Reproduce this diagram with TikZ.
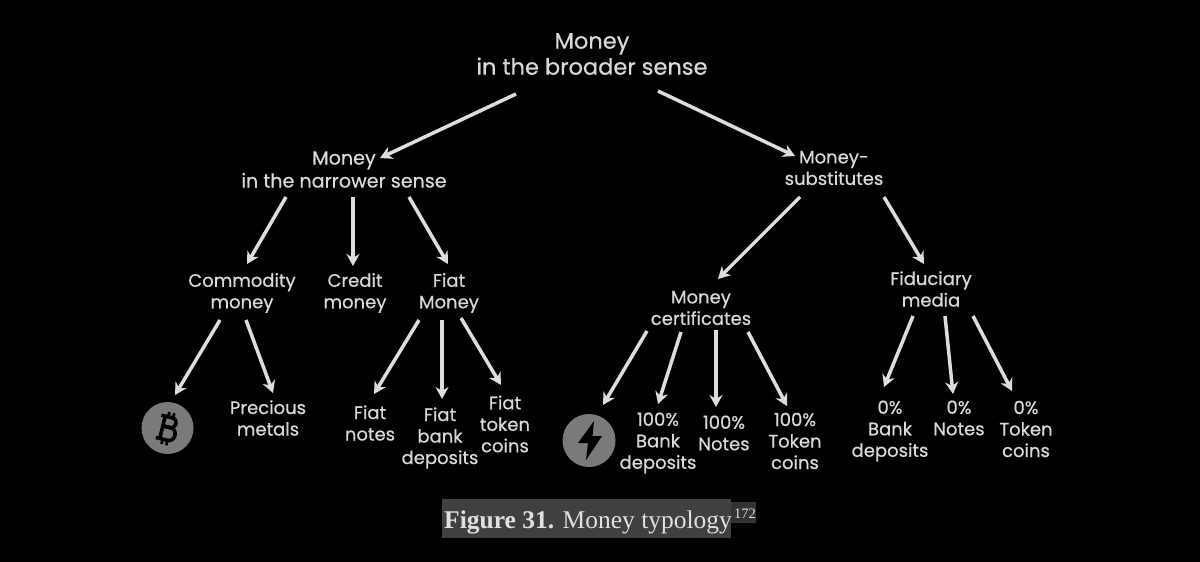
\documentclass[tikz,border=0pt]{standalone}
\usepackage{fontspec}
\setmainfont{Poppins}[FakeBold=0.5]
\newfontfamily\capfont{Liberation Serif}
\definecolor{txt}{HTML}{D9D9D9}
\definecolor{arrowc}{HTML}{DDDDDD}
\definecolor{disc}{HTML}{7A7A7A}
\definecolor{capbg}{HTML}{404040}
\definecolor{capsup}{HTML}{333333}
\definecolor{captxt}{HTML}{E0E0E0}
\usetikzlibrary{arrows.meta}
\tikzset{
  lab/.style={text=txt,align=center,inner sep=0pt,font=\fontsize{18}{21.5}\selectfont},
  labmid/.style={text=txt,align=center,inner sep=0pt,font=\fontsize{19.1}{23}\selectfont},
  labbig/.style={text=txt,align=center,inner sep=0pt,font=\fontsize{22.5}{26}\selectfont},
  coin/.style={circle,fill=disc,inner sep=0pt},
  arr/.style={draw=arrowc,line width=3.5pt,-{Stealth[length=12pt,width=13pt]}},
}
% \conn{from}{to}{dx1,dy1}{dx2,dy2}
\newcommand{\conn}[4]{\draw[arr] ([shift={(#3)}]#1.center) -- ([shift={(#4)}]#2.center);}
\begin{document}
\begin{tikzpicture}[x=1pt,y=-1pt]
\fill[black] (0,0) rectangle (1200,562);
\useasboundingbox (0,0) rectangle (1200,562);
\node[labbig] (root) at (592,54) {Money\\in the broader sense};
\node[labmid] (narrow) at (344,169.5) {Money\\in the narrower sense};
\node[lab] (subs) at (834,168) {Money-\\substitutes};
\node[lab] (commodity) at (242,293) {Commodity\\money};
\node[lab] (credit) at (355,293) {Credit\\money};
\node[lab] (fiat) at (449,293) {Fiat\\Money};
\node[lab] (cert) at (701,308) {Money\\certificates};
\node[lab] (fid) at (931,289) {Fiduciary\\media};
\node[coin,minimum size=52pt] (btc) at (167.5,428) {};
\begin{scope}[shift={(167.5,428)},rotate=-14,draw=black,line width=3.6pt]
\draw[line join=round] (-9,-11) -- (2,-11) .. controls (9,-11) and (9,-1) .. (2,-1) -- (-5,-1);
\draw[line join=round] (-5,-1) -- (3,-1) .. controls (11,-1) and (11,12) .. (3,12) -- (-9,12);
\draw (-5,-11) -- (-5,12);
\draw[line width=2.8pt] (-2,-11) -- (-2,-16) (3,-11) -- (3,-16) (-2,12) -- (-2,17) (3,12) -- (3,17);
\end{scope}
\node[lab] (precious) at (268,418) {Precious\\metals};
\node[lab] (fnotes) at (370,423) {Fiat\\notes};
\node[lab] (fbank) at (440,438) {Fiat\\bank\\deposits};
\node[lab] (ftoken) at (505,424) {Fiat\\token\\coins};
\node[coin,minimum size=53pt] (bolt) at (589,440.5) {};
\fill[black] (594,421) -- (578,443) -- (588,443) -- (586,460) -- (602,436) -- (592.5,436) -- cycle;
\node[lab] (b100) at (658,443) {100\%\\Bank\\deposits};
\node[lab] (n100) at (724,433) {100\%\\Notes};
\node[lab] (t100) at (795,441) {100\%\\Token\\coins};
\node[lab] (b0) at (890,431) {0\%\\Bank\\deposits};
\node[lab] (n0) at (959,418) {0\%\\Notes};
\node[lab] (t0) at (1026,429) {0\%\\Token\\coins};
\conn{root}{narrow}{-76,40}{36,-11.5}
\conn{root}{subs}{66,37}{-39,-12}
\conn{narrow}{commodity}{-58,27.5}{5,-29}
\conn{narrow}{credit}{9,27.5}{-2,-27}
\conn{narrow}{fiat}{65,27.5}{-1,-29}
\conn{subs}{cert}{-34,29}{17,-29}
\conn{subs}{fid}{50,29}{-7,-25}
\conn{commodity}{btc}{-22,27}{7.5,-33}
\conn{commodity}{precious}{4,27}{5,-25}
\conn{fiat}{fnotes}{-30,27}{4,-29}
\conn{fiat}{fbank}{-7,27}{2,-39}
\conn{fiat}{ftoken}{12,25}{-4,-39}
\conn{cert}{bolt}{-54,23}{14,-35.5}
\conn{cert}{b100}{-20,24}{0,-39}
\conn{cert}{n100}{15,22}{-8,-26}
\conn{cert}{t100}{47,24}{-8,-35}
\conn{fid}{b0}{-18,27}{-6,-44}
\conn{fid}{n0}{14,27}{-6,-24}
\conn{fid}{t0}{42,27}{-14,-38}
\fill[capbg] (442,499) rectangle (731,538);
\fill[capsup] (731,502) rectangle (756,523);
\node[anchor=base west,inner sep=0pt,text=captxt,font=\capfont\fontsize{25.5}{30}\selectfont] (cap) at (444,528) {\textbf{Figure 31.} Money typology};
\node[anchor=base west,inner sep=0pt,text=captxt,font=\capfont\fontsize{14.5}{16}\selectfont] (capnote) at (734,518) {172};
\end{tikzpicture}
\end{document}
